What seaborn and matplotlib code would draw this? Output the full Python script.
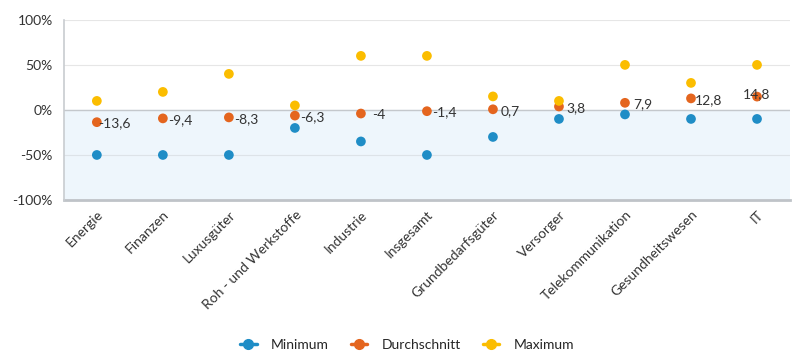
import pandas as pd
import matplotlib.pyplot as plt
import seaborn as sns
from matplotlib.lines import Line2D

# data
sectors = ["Energie", "Finanzen", "Luxusgüter", "Roh - und Werkstoffe", "Industrie",
           "Insgesamt", "Grundbedarfsgüter", "Versorger", "Telekommunikation",
           "Gesundheitswesen", "IT"]
minimum = [-50, -50, -50, -20, -35, -50, -30, -10, -5, -10, -10]
average = [-13.6, -9.4, -8.3, -6.3, -4, -1.4, 0.7, 3.8, 7.9, 12.8, 14.8]
maximum = [10, 20, 40, 5, 60, 60, 15, 10, 50, 30, 50]

series = ["Minimum", "Durchschnitt", "Maximum"]
colors = {"Minimum": "#1f8dc6", "Durchschnitt": "#e4651e", "Maximum": "#fbbd00"}

df = pd.concat([
    pd.DataFrame({"Sektor": sectors, "Wert": minimum, "Serie": "Minimum"}),
    pd.DataFrame({"Sektor": sectors, "Wert": average, "Serie": "Durchschnitt"}),
    pd.DataFrame({"Sektor": sectors, "Wert": maximum, "Serie": "Maximum"}),
])

sns.set_style("white")
plt.rcParams["font.family"] = ["Lato", "DejaVu Sans"]

fig = plt.figure(figsize=(7.98, 3.61), dpi=100)
ax = fig.add_axes([0.080, 0.446, 0.910, 0.499])

# light blue band below zero
ax.axhspan(-100, 0, color="#eef6fc", zorder=0)
for y in [50, 100]:
    ax.axhline(y, color="#e6e6e6", lw=0.8, zorder=1)
ax.axhline(-50, color="#dde3e8", lw=0.8, zorder=1)
ax.axhline(0, color="#c4c8cc", lw=1.0, zorder=1)

sns.stripplot(data=df, x="Sektor", y="Wert", hue="Serie", hue_order=series,
              palette=colors, jitter=False, dodge=False, size=7, linewidth=0,
              legend=False, ax=ax, zorder=3)

# value labels for the average series (centred a bit right of the point)
for i, v in enumerate(average):
    txt = f"{v:g}".replace(".", ",")
    if i == len(average) - 1:
        ax.annotate(txt, (i, v), xytext=(0, 2), textcoords="offset points",
                    ha="center", va="center", fontsize=10, color="#333333", zorder=4)
    else:
        ax.annotate(txt, (i, v), xytext=(12.5, -1), textcoords="offset points",
                    ha="center", va="center", fontsize=10, color="#333333", zorder=4)

ax.set_xlim(-0.5, len(sectors) - 0.5)
ax.set_ylim(-100, 100)
ax.set_yticks([-100, -50, 0, 50, 100])
ax.set_yticklabels(["-100%", "-50%", "0%", "50%", "100%"], fontsize=10, color="#333333")
ax.set_xticks(range(len(sectors)))
ax.set_xticklabels(sectors, rotation=45, ha="right", rotation_mode="anchor",
                   fontsize=10, color="#333333")
ax.set_xticks([i - 0.5 for i in range(len(sectors) + 1)], minor=True)
ax.tick_params(axis="x", which="major", length=0, pad=6)
ax.tick_params(axis="x", which="minor", length=5, color="#c8ccd0", width=1)
ax.tick_params(axis="y", length=0, pad=8)
ax.set_xlabel("")
ax.set_ylabel("")

for side in ["top", "right"]:
    ax.spines[side].set_visible(False)
ax.spines["left"].set_color("#c8ccd0")
ax.spines["left"].set_linewidth(1.2)
ax.spines["bottom"].set_color("#bfc3c8")
ax.spines["bottom"].set_linewidth(2)
ax.spines["bottom"].set_zorder(2)

handles = [Line2D([0], [0], color=colors[s], marker="o", markersize=7, lw=2.5,
                  label=s) for s in series]
fig.legend(handles=handles, loc="center", bbox_to_anchor=(0.51, 0.045), ncol=3,
           frameon=False, fontsize=10, handlelength=1.2, columnspacing=1.6,
           handletextpad=1.0)

fig.savefig("out.png", dpi=100)
